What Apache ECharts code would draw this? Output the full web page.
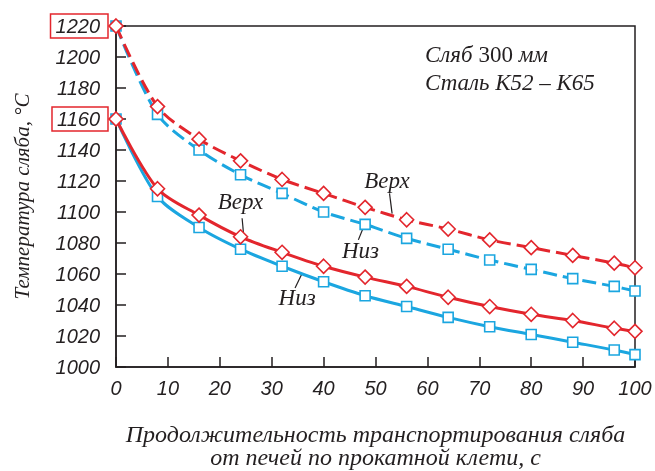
<!DOCTYPE html>
<html lang="ru">
<head>
    <meta charset="UTF-8">
    <title>slab-temperature</title>
    <script src="https://cdn.jsdelivr.net/npm/echarts@6/dist/echarts.min.js"></script>
    <style>
        html, body { margin: 0; padding: 0; background: #fff; }
        #main { width: 655px; height: 471px; }
    </style>
</head>
<body>
<div id="main"></div>
<script>
    // время транспортирования, с
    let times = [0, 8, 16, 24, 32, 40, 48, 56, 64, 72, 80, 88, 96, 100];
    // нагрев до 1220 (пунктир)
    let topHot = [1220, 1168, 1147, 1133, 1121, 1112, 1103, 1095, 1089, 1082, 1077, 1072, 1067, 1064];
    let bottomHot = [1220, 1163, 1140, 1124, 1112, 1100, 1092, 1083, 1076, 1069, 1063, 1057, 1052, 1049];
    // нагрев до 1160 (сплошная)
    let topCold = [1160, 1115, 1098, 1084, 1074, 1065, 1058, 1052, 1045, 1039, 1034, 1030, 1025, 1023];
    let bottomCold = [1160, 1110, 1090, 1076, 1065, 1055, 1046, 1039, 1032, 1026, 1021, 1016, 1011, 1008];
    // подписи, выделенные рамкой
    let boxedTicks = [1220, 1160];

    let red = '#e3262d';
    let blue = '#1ba6e0';
    let ink = '#231f20';
    let serif = '"Liberation Serif", "DejaVu Serif", serif';
    let sans = '"Liberation Sans", Arial, sans-serif';

    function pairs(ys) {
        return times.map((t, i) => [t, ys[i]]);
    }

    function makeSeries(ys, color, dashed, symbol) {
        return {
            type: 'line',
            data: pairs(ys),
            smooth: 0.3,
            symbol: symbol,
            symbolSize: symbol === 'diamond' ? 14 : 10,
            lineStyle: {color: color, width: 3, type: dashed ? [14, 6] : 'solid'},
            itemStyle: {color: '#fff', borderColor: color, borderWidth: 1.6},
            z: color === red ? 3 : 2
        };
    }

    let option = {
        animation: false,
        grid: {
            left: 116, right: 20, top: 26, bottom: 104,
            outerBoundsMode: 'none',
            show: true, borderColor: ink, borderWidth: 1.5
        },
        xAxis: {
            type: 'value', min: 0, max: 100, interval: 10,
            axisLine: {show: true, lineStyle: {color: ink, width: 1.5}},
            axisTick: {inside: true, length: 10, lineStyle: {color: ink, width: 1.5}},
            splitLine: {show: false},
            axisLabel: {
                margin: 12, color: ink, fontSize: 20, fontStyle: 'italic', fontFamily: sans
            },
            name: 'Продолжительность транспортирования сляба\nот печей по прокатной клети, с',
            nameLocation: 'middle',
            nameGap: 57,
            nameTextStyle: {
                fontFamily: serif, fontStyle: 'italic', fontSize: 24, color: ink, lineHeight: 23
            }
        },
        yAxis: {
            type: 'value', min: 1000, max: 1220, interval: 20,
            axisLine: {show: true, lineStyle: {color: ink, width: 1.5}},
            axisTick: {inside: true, length: 10, lineStyle: {color: ink, width: 1.5}},
            splitLine: {show: false},
            axisLabel: {
                margin: 8,
                formatter: v => boxedTicks.includes(v) ? '{b|' + v + '}' : '{n|' + v + '}',
                rich: {
                    n: {color: ink, fontSize: 20, fontStyle: 'italic', fontFamily: sans, padding: [3, 8, 1, 5]},
                    b: {
                        color: ink, fontSize: 20, fontStyle: 'italic', fontFamily: sans, padding: [3, 8, 1, 5],
                        borderColor: red, borderWidth: 1.5
                    }
                }
            },
            name: 'Температура сляба, °C',
            nameLocation: 'middle',
            nameGap: 82,
            nameTextStyle: {fontFamily: serif, fontStyle: 'italic', fontSize: 21, color: ink}
        },
        series: [
            makeSeries(bottomHot, blue, true, 'rect'),
            makeSeries(topHot, red, true, 'diamond'),
            makeSeries(bottomCold, blue, false, 'rect'),
            makeSeries(topCold, red, false, 'diamond')
        ]
    };

    let myChart = echarts.init(document.getElementById('main'), null, {renderer: 'canvas'});
    myChart.setOption(option);

    // подписи Верх / Низ с выносками (в координатах данных)
    let notes = [
        {text: 'Верх', at: [24, 1106], from: [24.3, 1096], to: [24.6, 1085]},
        {text: 'Низ', at: [34.9, 1044], from: [34.5, 1051], to: [35.8, 1060]},
        {text: 'Верх', at: [52.2, 1119.5], from: [52.7, 1112], to: [53.2, 1099]},
        {text: 'Низ', at: [47.1, 1074], from: [46.7, 1082], to: [47.6, 1089.5]}
    ];

    function px(p) {
        return myChart.convertToPixel({gridIndex: 0}, p);
    }

    let graphics = [];
    notes.forEach(n => {
        let c = px(n.at), a = px(n.from), b = px(n.to);
        graphics.push({
            type: 'text', x: c[0], y: c[1],
            style: {
                text: n.text, fill: ink, fontSize: 23, fontStyle: 'italic', fontFamily: serif,
                align: 'center', verticalAlign: 'middle'
            }
        });
        graphics.push({
            type: 'line',
            shape: {x1: a[0], y1: a[1], x2: b[0], y2: b[1]},
            style: {stroke: ink, lineWidth: 1.2}
        });
    });
    // надпись в правом верхнем углу
    graphics.push({
        type: 'text', left: 425, top: 44,
        style: {
            text: '{i|Сляб }{n|300}{i| мм}\n{i|Сталь К52 – К65}',
            rich: {
                i: {fontSize: 23, fontStyle: 'italic', fontFamily: serif, fill: ink, lineHeight: 28},
                n: {fontSize: 23, fontFamily: serif, fill: ink, lineHeight: 28}
            }
        }
    });
    myChart.setOption({graphic: graphics});
</script>
</body>
</html>
